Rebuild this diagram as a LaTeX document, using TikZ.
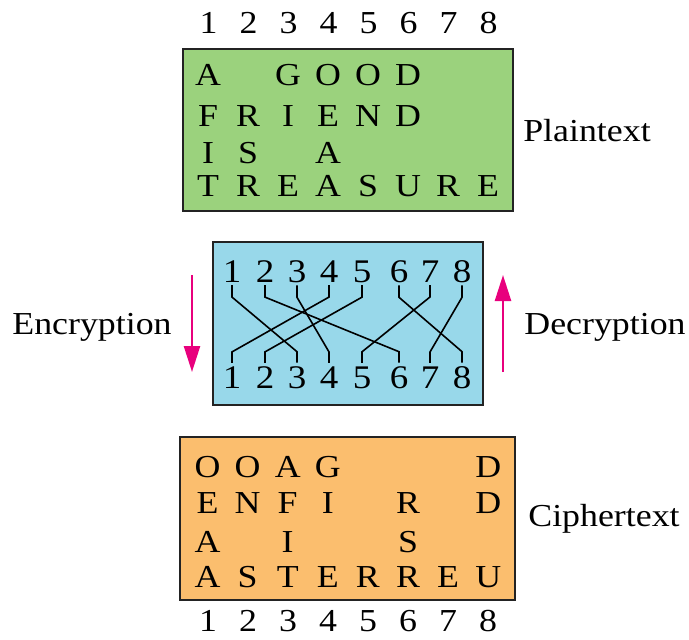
\documentclass[tikz,border=0pt]{standalone}
\usepackage{fontspec}
\setmainfont[FakeStretch=1.12]{Liberation Serif}
\usetikzlibrary{calc,arrows.meta}
\definecolor{plaingreen}{RGB}{155,210,125}
\definecolor{keyblue}{RGB}{152,216,234}
\definecolor{cipherorange}{RGB}{251,190,110}
\definecolor{arrowpink}{RGB}{232,0,125}
\definecolor{edgegray}{RGB}{35,35,35}
\tikzset{
  txt/.style={font=\fontsize{32}{36}\selectfont, inner sep=0pt},
  dig/.style={font=\fontsize{33}{36}\selectfont, inner sep=2pt},
  panel/.style={draw=edgegray, line width=2pt},
  wire/.style={line width=1.6pt, black},
  flow/.style={draw=arrowpink, line width=2.5pt, -{Triangle[length=26pt,width=16pt]}},
  lbl/.style={font=\fontsize{32}{36}\selectfont, inner sep=0pt}
}
\begin{document}
\begin{tikzpicture}[x=1pt,y=-1pt]
\useasboundingbox (0,0) rectangle (689,640);
% panels
\node[panel, fill=plaingreen, minimum width=330pt, minimum height=162pt, inner sep=0pt] (plainbox) at (348,130) {};
\node[panel, fill=keyblue, minimum width=270pt, minimum height=163pt, inner sep=0pt] (keybox) at (348,323.5) {};
\node[panel, fill=cipherorange, minimum width=335pt, minimum height=163pt, inner sep=0pt] (cipherbox) at (347.5,518.5) {};
% column numbers
\foreach \i in {1,...,8} {
  \node[txt] (n\i) at ({208.5+40*(\i-1)},23) {\i};
  \node[txt] (m\i) at ({208+40*(\i-1)},621) {\i};
}
% plaintext letters
\foreach \c/\r/\l [count=\k] in {1/1/A,3/1/G,4/1/O,5/1/O,6/1/D,
  1/2/F,2/2/R,3/2/I,4/2/E,5/2/N,6/2/D,
  1/3/I,2/3/S,4/3/A,
  1/4/T,2/4/R,3/4/E,4/4/A,5/4/S,6/4/U,7/4/R,8/4/E} {
  \pgfmathsetmacro{\yy}{{75,116,153,186}[\r-1]}
  \node[txt] (p\k) at ({208+40*(\c-1)},\yy) {\l};
}
% ciphertext letters
\foreach \c/\r/\l [count=\k] in {1/1/O,2/1/O,3/1/A,4/1/G,8/1/D,
  1/2/E,2/2/N,3/2/F,4/2/I,6/2/R,8/2/D,
  1/3/A,3/3/I,6/3/S,
  1/4/A,2/4/S,3/4/T,4/4/E,5/4/R,6/4/R,7/4/E,8/4/U} {
  \pgfmathsetmacro{\yy}{{467,503,542,577}[\r-1]}
  \node[txt] (c\k) at ({207.5+40.1*(\c-1)},\yy) {\l};
}
% key digits
\foreach \i/\x in {1/232,2/265,3/297,4/329,5/362,6/399,7/430,8/462} {
  \node[dig] (t\i) at (\x,272) {\i};
  \node[dig] (b\i) at (\x,378) {\i};
}
% wires
\foreach \a/\b in {1/3,2/6,3/4,4/1,5/2,6/8,7/5,8/7} {
  \draw[wire] (t\a.south) -- ++(0,12) -- ($(b\b.north)+(0,-13)$) -- ($(b\b.north)+(0,-2)$);
}
% labels
\node[lbl] (plainlbl) at (587,131) {Plaintext};
\node[lbl] (cipherlbl) at (604,519) {Ciphertext};
\node[lbl] (enclbl) at (92,327) {Encryption};
\node[lbl] (declbl) at (605,327) {Decryption};
% arrows
\coordinate (e1) at (192,275);
\coordinate (e2) at (192,372);
\coordinate (d1) at (503,372);
\coordinate (d2) at (503,275);
\draw[flow] (e1) -- (e2);
\draw[flow] (d1) -- (d2);
\end{tikzpicture}
\end{document}
